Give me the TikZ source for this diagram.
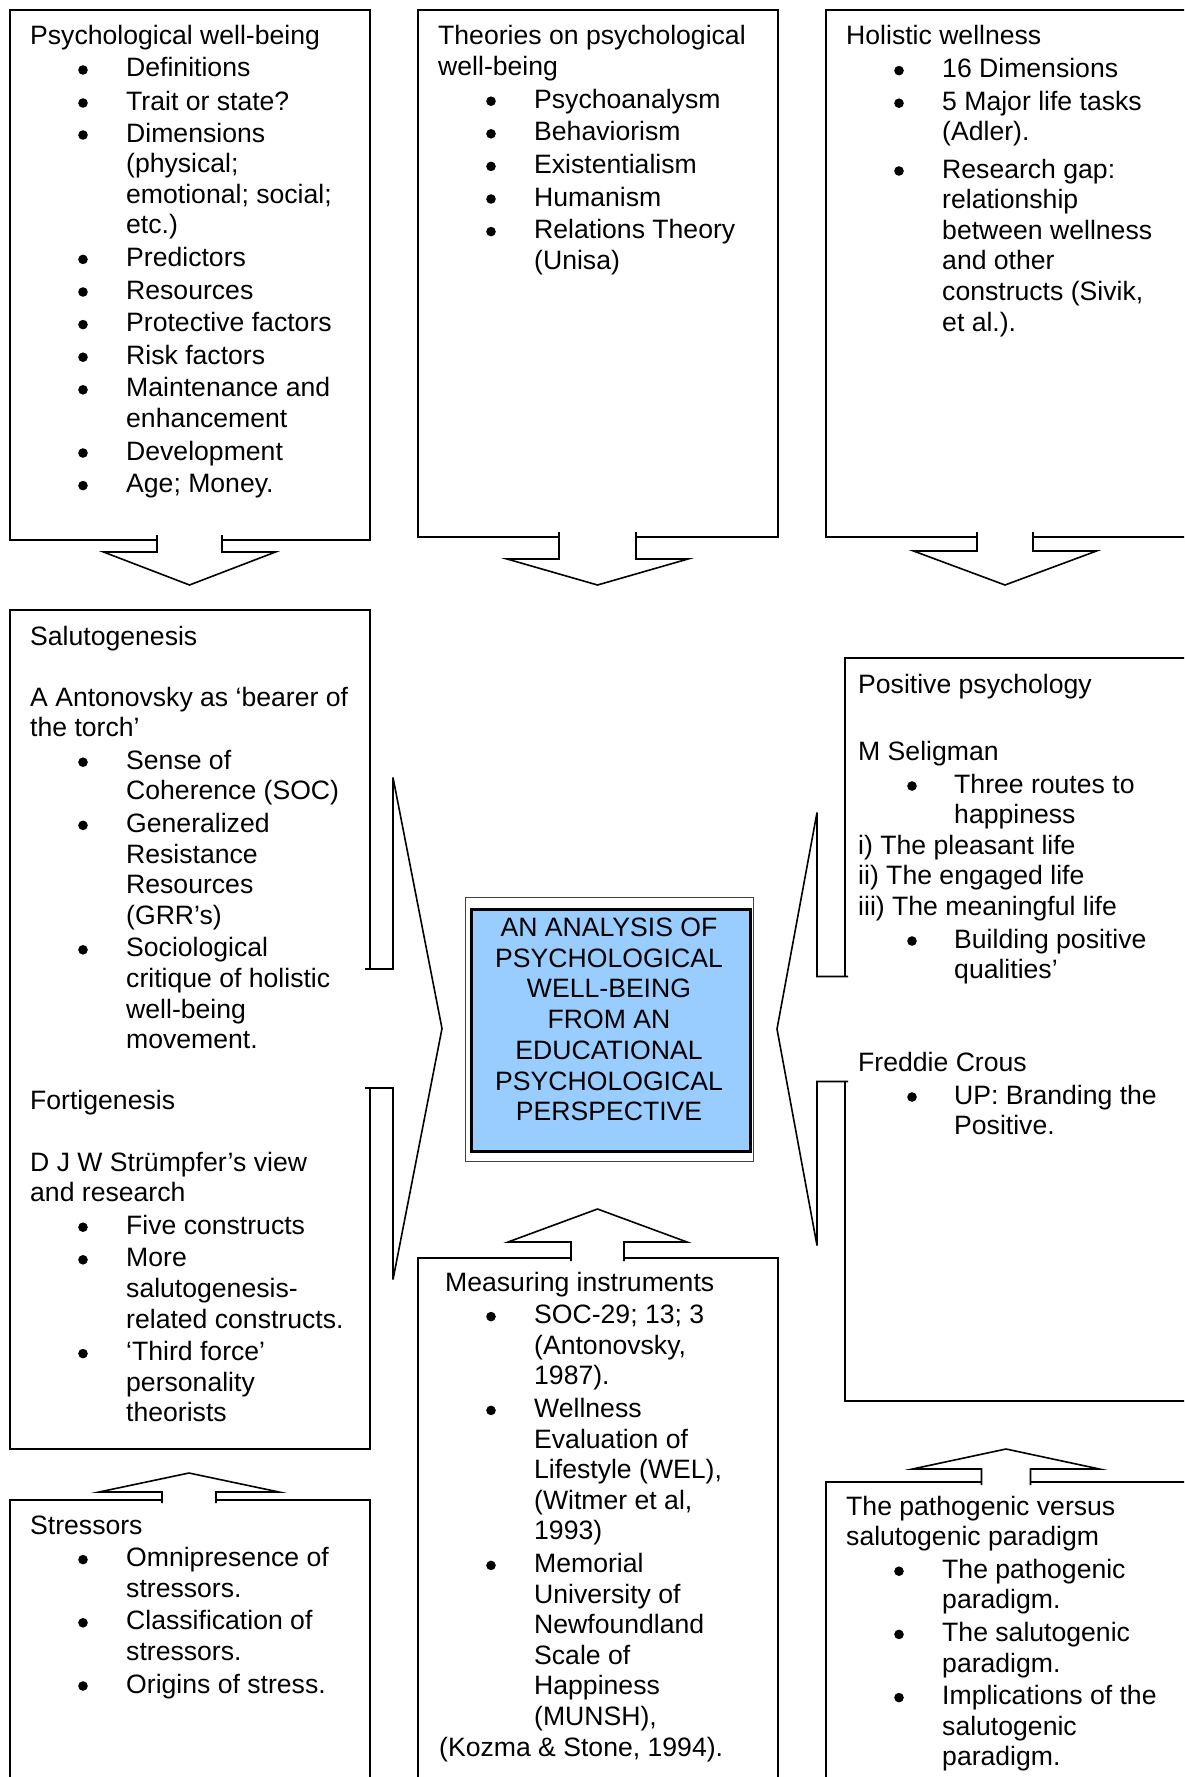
\documentclass[tikz,border=0pt]{standalone}
\usepackage{fontspec}
\setmainfont{Liberation Sans}
\definecolor{titleblue}{HTML}{99CCFF}
\tikzset{
  box/.style={draw=black, line width=1.6pt, fill=white, rectangle, inner sep=0pt, anchor=north west},
  arr/.style={draw=black, fill=white, line width=1.6pt, line join=miter},
  txt/.style={anchor=base west, inner sep=0pt, font=\fontsize{26.6}{30.6}\selectfont},
  bul/.style={fill=black}
}
% vertical block arrow: cx, ystart, ybase, ytip, half shaft, half head
\newcommand\varrow[6]{\path[arr] (#1-#5,#2) -- (#1-#5,#3) -- (#1-#6,#3) -- (#1,#4) -- (#1+#6,#3) -- (#1+#5,#3) -- (#1+#5,#2);}
% horizontal block arrow: cy, xstart, xbase, xtip, half shaft, half head
\newcommand\harrow[6]{\path[arr] (#2,#1-#5) -- (#3,#1-#5) -- (#3,#1-#6) -- (#4,#1) -- (#3,#1+#6) -- (#3,#1+#5) -- (#2,#1+#5);}
% text lines of a box: prefix, x title, x bullet, x text, list kind/y/text
\newcommand\boxlines[5]{%
  \foreach \kk/\yy/\tx [count=\ii] in {#5} {%
    \ifnum\kk=0 \node[txt] (#1-\ii) at (#2,\yy) {\tx};\fi
    \ifnum\kk=1 \fill[bul] (#3,\yy-7) circle (4.8); \node[txt] (#1-\ii) at (#4,\yy) {\tx};\fi
    \ifnum\kk=2 \node[txt] (#1-\ii) at (#4,\yy) {\tx};\fi
  }}
\begin{document}
\begin{tikzpicture}[x=1pt, y=-1pt]
\useasboundingbox (0,0) rectangle (1184,1777);
\fill[white] (0,0) rectangle (1184,1777);
\clip (0,0) rectangle (1184,1777);

% boxes
\node[box, minimum width=360, minimum height=530] (b1) at (9,9) {};
\node[box, minimum width=360, minimum height=527] (b2) at (417,9) {};
\node[box, minimum width=360, minimum height=527] (b3) at (825,9) {};
\node[box, minimum width=360, minimum height=839] (sal) at (9,609) {};
\node[box, minimum width=360, minimum height=743] (pos) at (844,657) {};
\node[box, minimum width=360, minimum height=540] (meas) at (417,1257) {};
\node[box, minimum width=360, minimum height=300] (stre) at (9,1499) {};
\node[box, minimum width=360, minimum height=320] (path) at (825,1481) {};

% central title box
\node[box, draw=black!75, line width=1.2pt, minimum width=288, minimum height=264] (outer) at (465,897) {};
\node[box, fill=titleblue, line width=2.6pt, minimum width=279, minimum height=242] (inner) at (470,908) {};
\node[inner sep=0pt, align=center, font=\fontsize{26.6}{30.7}\selectfont] (title) at (609,1019.5)
  {AN ANALYSIS OF\\PSYCHOLOGICAL\\WELL-BEING\\FROM AN\\EDUCATIONAL\\PSYCHOLOGICAL\\PERSPECTIVE};

% block arrows
\varrow{189.5}{535}{552}{585}{32.5}{86}
\varrow{597.5}{532}{559}{585}{38.5}{90.5}
\varrow{1005}{532}{551}{585}{28}{91.5}
\varrow{189}{1503}{1492}{1473}{27}{90}
\varrow{597.5}{1261}{1242}{1209}{26.5}{89.5}
\varrow{1006}{1485}{1469}{1449}{24.5}{93.5}
\harrow{1028.5}{365}{393}{442}{59.5}{251}
\harrow{1029}{848}{817}{777}{52.5}{216.5}

% texts
\boxlines{p1}{30}{83}{126}{0/45/{Psychological well-being},
1/77/{Definitions},
1/110/{Trait or state?},
1/142/{Dimensions},
2/172.6/{(physical;},
2/203.2/{emotional; social;},
2/233.8/{etc.)},
1/266.4/{Predictors},
1/299/{Resources},
1/331.6/{Protective factors},
1/364.2/{Risk factors},
1/396.8/{Maintenance and},
2/427.4/{enhancement},
1/460/{Development},
1/492.6/{Age; Money.}}

\boxlines{p2}{438}{491}{534}{0/45/{Theories on psychological},
0/75.6/{well-being},
1/108.2/{Psychoanalysm},
1/140.8/{Behaviorism},
1/173.4/{Existentialism},
1/206/{Humanism},
1/238.6/{Relations Theory},
2/269.2/{(Unisa)}}

\boxlines{p3}{846}{899}{942}{0/45/{Holistic wellness},
1/77.6/{16 Dimensions},
1/110.2/{5 Major life tasks},
2/140.8/{(Adler).},
1/178/{Research gap:},
2/208.6/{relationship},
2/239.2/{between wellness},
2/269.8/{and other},
2/300.4/{constructs (Sivik,},
2/331/{et al.).}}

\boxlines{ps}{30}{83}{126}{0/645/{Salutogenesis},
0/706/{A Antonovsky as ‘bearer of},
0/736.6/{the torch’},
1/769.2/{Sense of},
2/799.8/{Coherence (SOC)},
1/832.4/{Generalized},
2/863/{Resistance},
2/893.6/{Resources},
2/924.2/{(GRR’s)},
1/956.8/{Sociological},
2/987.4/{critique of holistic},
2/1018/{well-being},
2/1048.6/{movement.},
0/1109.8/{Fortigenesis},
0/1171/{D J W Strümpfer’s view},
0/1201.6/{and research},
1/1234.2/{Five constructs},
1/1266.8/{More},
2/1297.4/{salutogenesis-},
2/1328/{related constructs.},
1/1360.6/{‘Third force’},
2/1391.2/{personality},
2/1421.8/{theorists}}

\boxlines{pp}{858}{912}{954}{0/693/{Positive psychology},
0/760/{M Seligman},
1/793/{Three routes to},
2/823.6/{happiness},
0/854.2/{i) The pleasant life},
0/884.8/{ii) The engaged life},
0/915.4/{iii) The meaningful life},
1/948/{Building positive},
2/978.6/{qualities’},
0/1071.5/{Freddie Crous},
1/1104/{UP: Branding the},
2/1134.6/{Positive.}}

\boxlines{pm}{445}{491}{534}{0/1291/{Measuring instruments},
1/1323.6/{SOC-29; 13; 3},
2/1354.2/{(Antonovsky,},
2/1384.8/{1987).},
1/1417.4/{Wellness},
2/1448/{Evaluation of},
2/1478.6/{Lifestyle (WEL),},
2/1509.2/{(Witmer et al,},
2/1539.8/{1993)},
1/1572.4/{Memorial},
2/1603/{University of},
2/1633.6/{Newfoundland},
2/1664.2/{Scale of},
2/1694.8/{Happiness},
2/1725.4/{(MUNSH),}}
\node[txt] (pm-last) at (439,1756) {(Kozma \& Stone, 1994).};

\boxlines{st}{30}{83}{126}{0/1534/{Stressors},
1/1566.6/{Omnipresence of},
2/1597.2/{stressors.},
1/1629.8/{Classification of},
2/1660.4/{stressors.},
1/1693/{Origins of stress.}}

\boxlines{pg}{846}{899}{942}{0/1515/{The pathogenic versus},
0/1545.6/{salutogenic paradigm},
1/1578.2/{The pathogenic},
2/1608.8/{paradigm.},
1/1641.4/{The salutogenic},
2/1672/{paradigm.},
1/1704.6/{Implications of the},
2/1735.2/{salutogenic},
2/1765.8/{paradigm.}}
\end{tikzpicture}
\end{document}
